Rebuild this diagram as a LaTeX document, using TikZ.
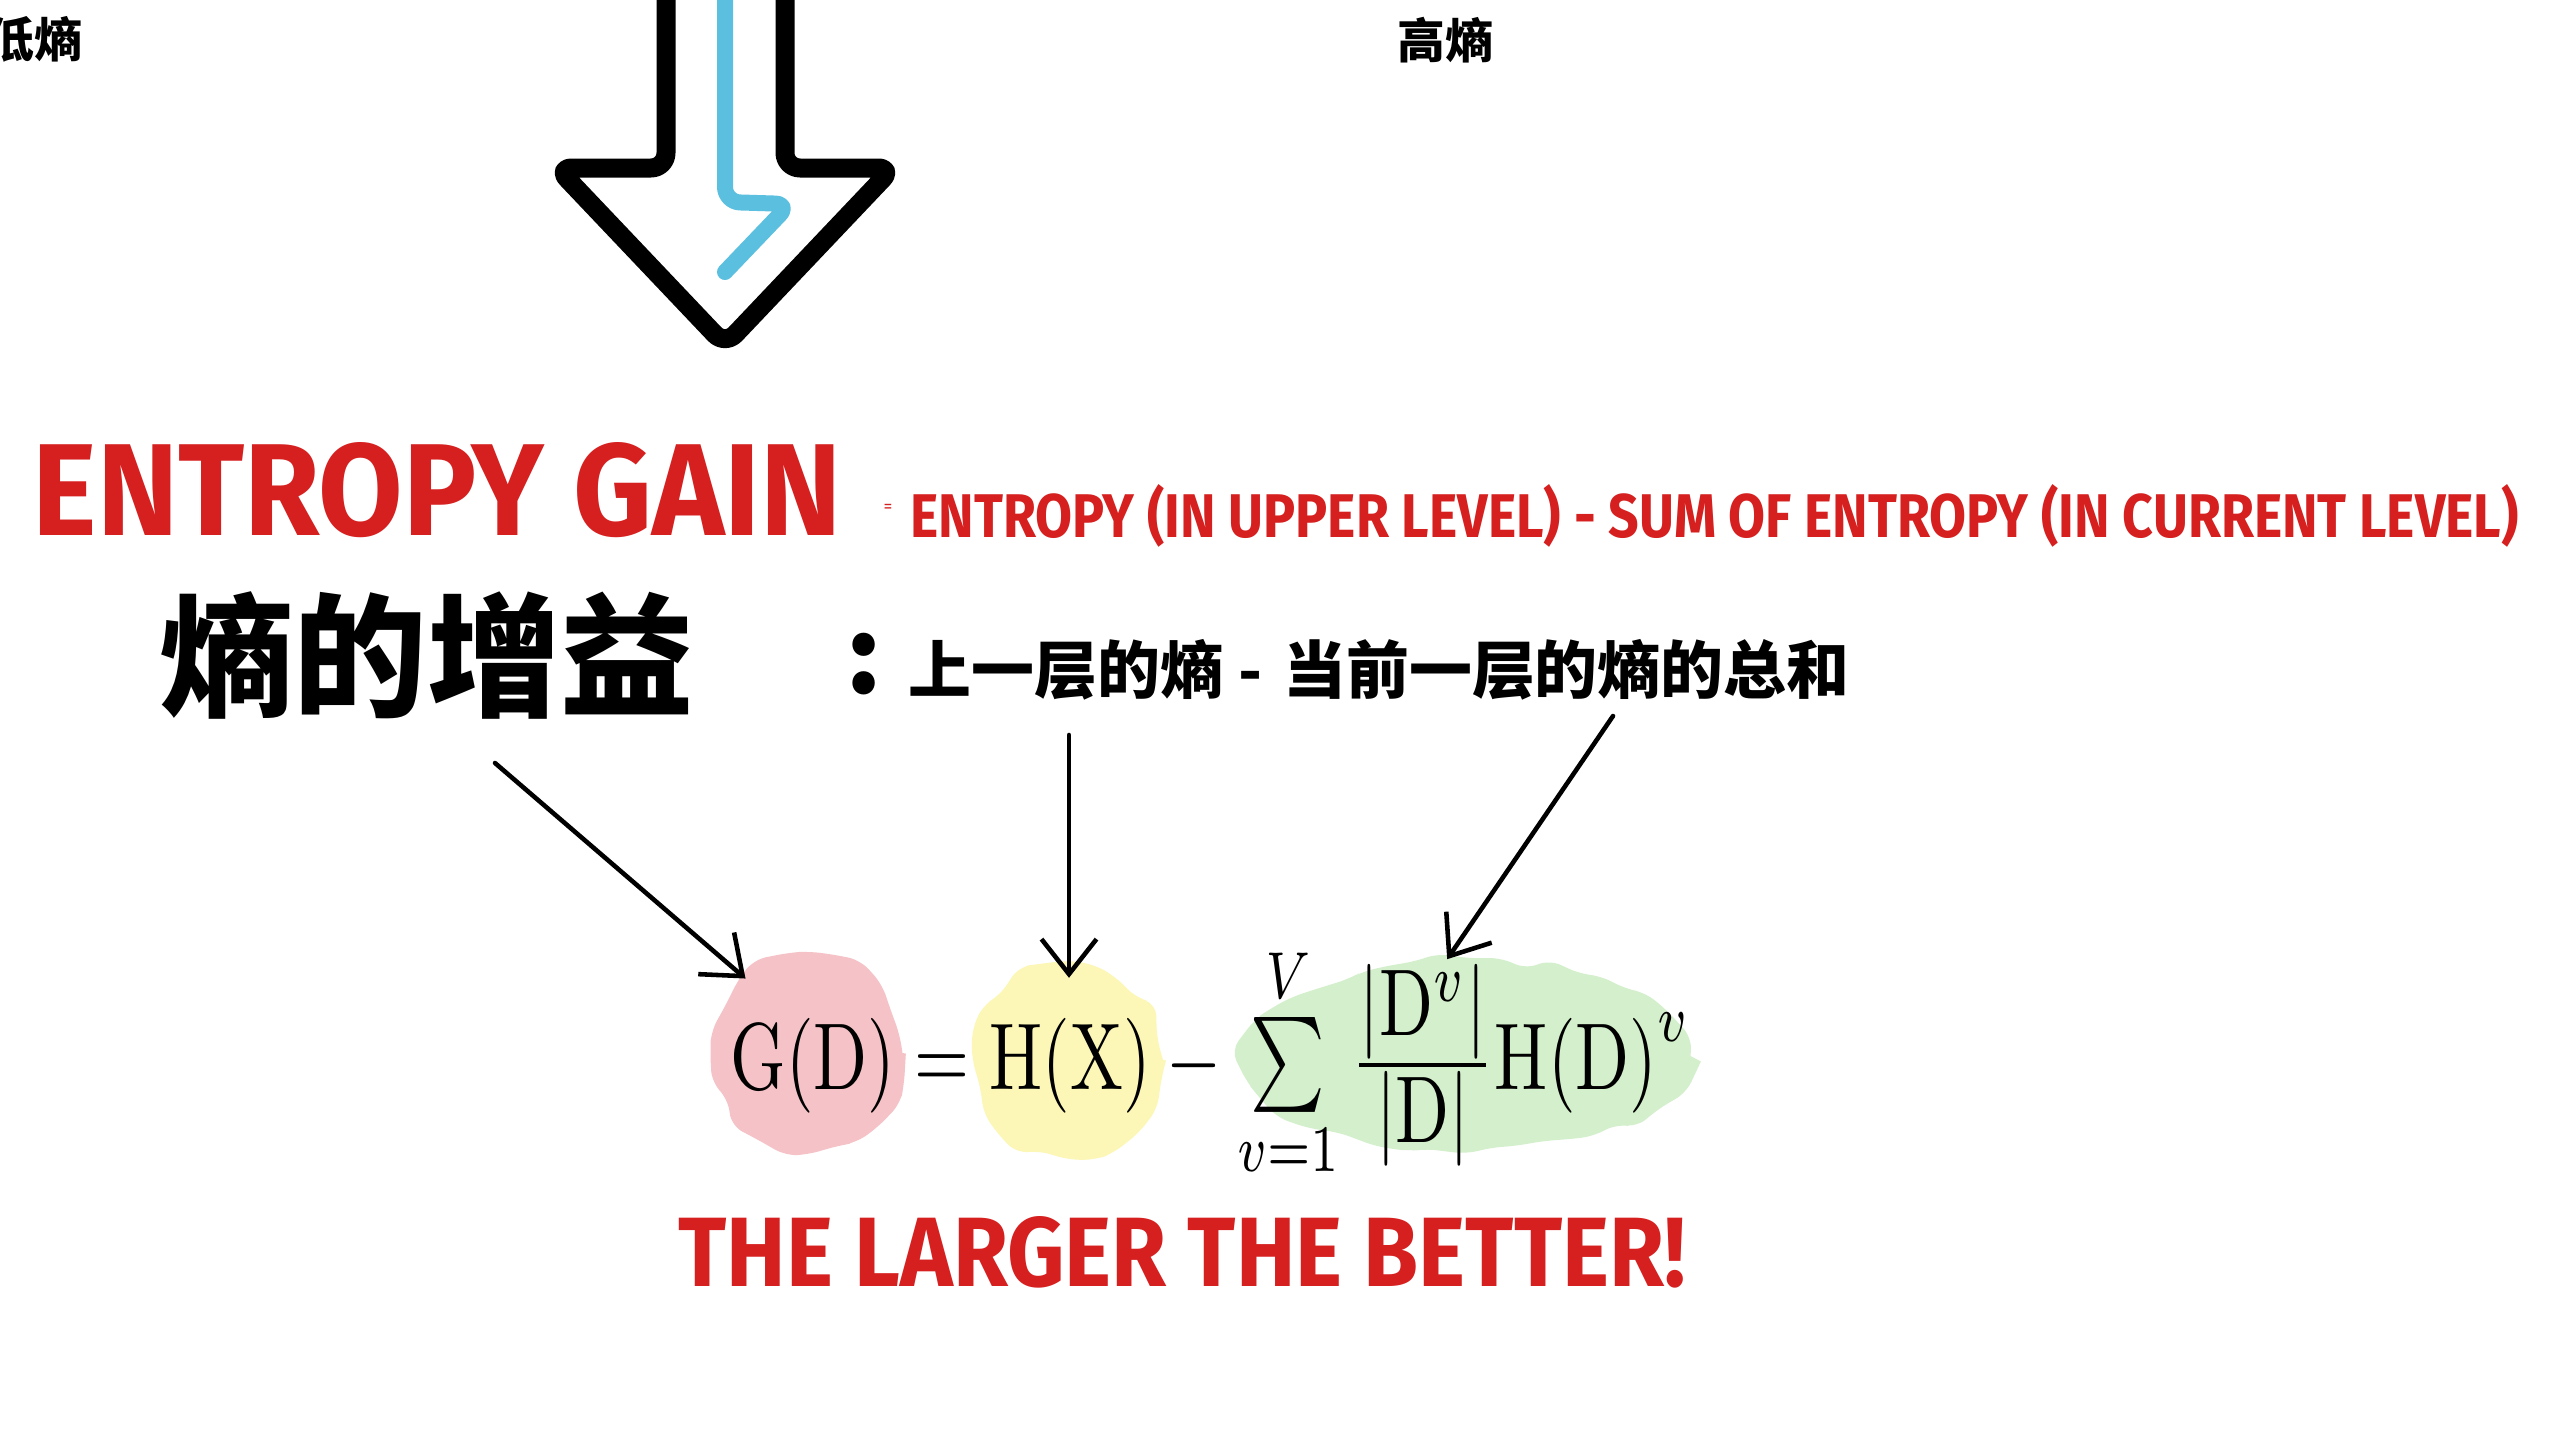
\documentclass[tikz,border=0pt]{standalone}
\usepackage{amsmath}
\usepackage{graphicx}
\usepackage{fontspec}
\setsansfont{Fira Sans}
\newfontfamily\cjk{Noto Sans CJK SC}
\usetikzlibrary{arrows.meta,shapes.geometric,decorations.pathmorphing}
\definecolor{markred}{HTML}{D61F1F}
\definecolor{skyblue}{HTML}{5BBFE0}
\definecolor{hlpink}{HTML}{F5C3C7}
\definecolor{hlyellow}{HTML}{FCF7B6}
\definecolor{hlgreen}{HTML}{D3EFCB}
\tikzset{
  every picture/.style={line join=round, line cap=round, >=Stealth},
  redtitle/.style={text=markred, font=\sffamily\bfseries, inner sep=0pt},
  cnhead/.style={font=\cjk\bfseries\fontsize{13.6}{15}\selectfont, inner sep=0pt},
  cnbig/.style={font=\cjk\bfseries\fontsize{38}{40}\selectfont, inner sep=0pt},
  cnline/.style={font=\cjk\bfseries\fontsize{17.9}{20}\selectfont, inner sep=0pt},
  blob/.style={ellipse, fill=#1, inner sep=0pt, decorate,
    decoration={random steps, segment length=2.5mm, amplitude=0.7mm}, rounded corners=1.2mm},
  pointer/.style={-{Straight Barb[length=3.5mm,width=5.5mm]}, line width=1.3pt},
}
\newcommand{\fitred}[3]{\resizebox{#1}{#2}{#3}}

\begin{document}
\begin{tikzpicture}
\fill[white] (0,0) rectangle (25.6,-14.4);
\useasboundingbox (0,0) rectangle (25.6,-14.4);
\pgfmathsetseed{3}

\node[cnhead, anchor=east] (lowH) at (0.83,-0.39) {低熵};
\node[cnhead] (highH) at (14.45,-0.40) {高熵};

\draw[line width=0.19cm, rounded corners=1.5mm] (6.66,0.3) -- (6.66,-1.68) -- (5.57,-1.68) -- (7.25,-3.45) -- (8.93,-1.68) -- (7.85,-1.68) -- (7.85,0.3);
\draw[skyblue, line width=0.16cm, rounded corners=1.5mm] (7.25,0.3) -- (7.25,-2.02) -- (7.90,-2.04) -- (7.25,-2.72);

\node[redtitle, anchor=base west] (gainEn) at (0.32,-5.35) {\fitred{8.09cm}{0.93cm}{ENTROPY GAIN}};
\node[redtitle, font=\sffamily\fontsize{5}{6}\selectfont] (eqMark) at (8.88,-5.08) {=};
\node[redtitle, anchor=base west] (gainDef) at (9.10,-5.37) {\fitred{16.08cm}{0.53cm}{ENTROPY (IN UPPER LEVEL) - SUM OF ENTROPY (IN CURRENT LEVEL)}};

\node[cnbig] (gainCn) at (4.27,-6.55) {熵的增益};
\node[cnline, font=\cjk\bfseries\fontsize{30}{32}\selectfont, anchor=base] (colon) at (8.64,-6.93) {:};
\node[cnline, anchor=west] (defCn) at (9.08,-6.70) {上一层的熵\hspace{0.15cm}-\hspace{0.21cm}当前一层的熵的总和};

\node[blob=hlpink, minimum width=1.89cm, minimum height=1.96cm] (gd) at (8.08,-10.53) {};
\node[blob=hlyellow, minimum width=1.88cm, minimum height=1.93cm] (hx) at (10.69,-10.60) {};
\node[blob=hlgreen, minimum width=4.49cm, minimum height=1.93cm] (sum) at (14.66,-10.56) {};

\node[anchor=base west, inner sep=0pt] (formula) at (7.30,-10.89) {\resizebox{9.60cm}{2.7\height}{$\mathrm{G(D)}=\mathrm{H(X)}-\sum\limits_{v=1}^{V}\frac{\textstyle|\mathrm{D}^v|}{\textstyle|\mathrm{D}|}\mathrm{H(D)}^v$}};

\coordinate (cnTail) at (4.95,-7.63);
\coordinate (upperTail) at (10.69,-7.35);
\coordinate (curTail) at (16.13,-7.16);
\draw[pointer] (cnTail) -- (gd.130);
\draw[pointer, shorten >=-1.5mm] (upperTail) -- (hx.north);
\draw[pointer] (curTail) -- (sum.101);

\node[redtitle, anchor=base west] (better) at (6.78,-12.86) {\fitred{10.07cm}{0.70cm}{THE LARGER THE BETTER!}};
\end{tikzpicture}
\end{document}
